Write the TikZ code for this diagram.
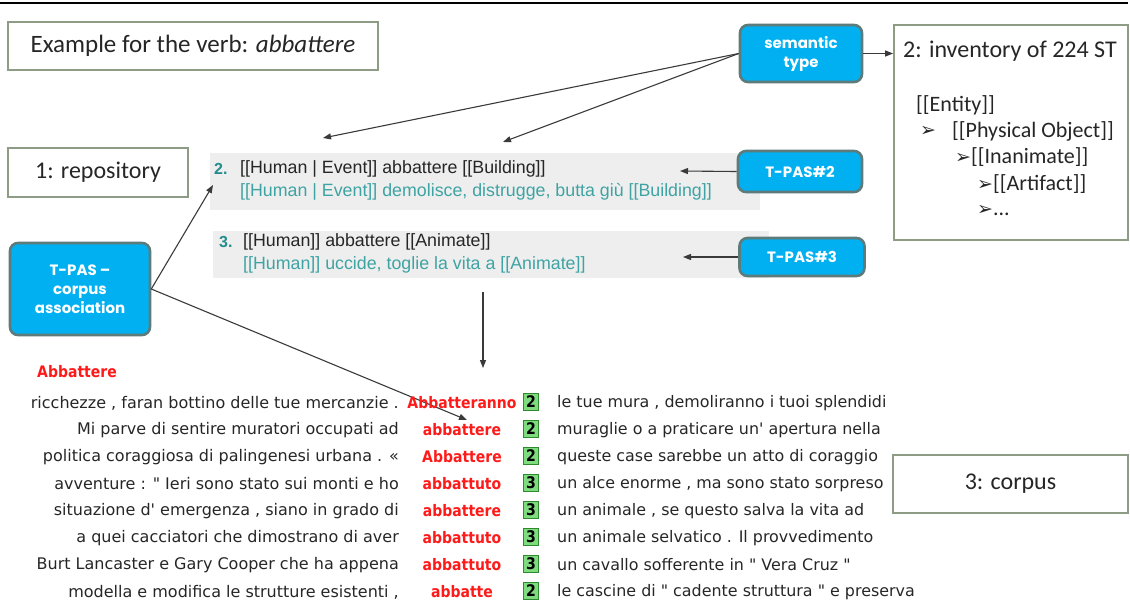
\documentclass[tikz,border=0pt]{standalone}
\usepackage{fontspec}
\setmainfont{Carlito}
\newfontfamily\arialf{Liberation Sans}
\newfontfamily\corpf{DejaVu Sans}
\newfontfamily\corpkw{DejaVu Sans}[FakeStretch=0.88]
\newfontfamily\btnf{Poppins}
\newfontfamily\dingf{DejaVu Sans}
\usetikzlibrary{arrows.meta}
\definecolor{skyfill}{HTML}{00B0F0}
\definecolor{skyedge}{HTML}{5E7B7B}
\definecolor{boxedge}{HTML}{8E9C86}
\definecolor{bandfill}{HTML}{EEEEEE}
\definecolor{tealtxt}{HTML}{3FA3A3}
\definecolor{tealnum}{HTML}{238C8C}
\definecolor{inktxt}{HTML}{262626}
\definecolor{kwred}{HTML}{FF1A1A}
\definecolor{tagfill}{HTML}{7EDB7E}
\definecolor{tagedge}{HTML}{2F8A2F}
\definecolor{linkgray}{HTML}{3A3A3A}
\newcommand{\pointer}{{\dingf\fontsize{19}{22}\selectfont ➢}}
\tikzset{
  labelbox/.style={draw=boxedge, line width=1.8pt, fill=white, inner sep=0pt,
    text=inktxt, font=\fontsize{24}{28}\selectfont},
  bluebtn/.style={draw=skyedge, line width=2.6pt, fill=skyfill, rounded corners=8pt,
    inner sep=0pt, text=white, align=center,
    font=\btnf\bfseries\fontsize{15}{19}\selectfont},
  link/.style={draw=linkgray, line width=1.1pt, -{Triangle[length=8pt,width=6pt]}},
  band/.style={fill=bandfill, draw=none},
  tpasline/.style={anchor=west, inner sep=0pt, font=\arialf\fontsize{17.8}{20}\selectfont},
  invline/.style={anchor=west, inner sep=0pt, text=inktxt, font=\fontsize{22}{26}\selectfont},
  leftctx/.style={anchor=east, inner sep=0pt, text=inktxt, font=\corpf\fontsize{16}{18}\selectfont},
  rightctx/.style={anchor=west, inner sep=0pt, text=inktxt, font=\corpf\fontsize{15.9}{18}\selectfont},
  kword/.style={inner sep=0pt, text=kwred, font=\corpkw\bfseries\fontsize{15.9}{18}\selectfont},
  tag/.style={draw=tagedge, line width=1.2pt, fill=tagfill, minimum width=15pt, minimum height=17pt,
    inner sep=0pt, text=black, font=\corpkw\bfseries\fontsize{16}{18}\selectfont}
}
\begin{document}
\begin{tikzpicture}[x=1pt,y=-1pt]
\useasboundingbox (0,0) rectangle (1130,603);
% rule along the top
\draw[line width=1.2pt, black] (0,3) -- (1128,3);

% titled label boxes
\node[labelbox, minimum width=370pt, minimum height=48pt, font=\fontsize{25}{29}\selectfont] (example) at (193,46)
  {Example for the verb: \textit{abbattere}};
\node[labelbox, minimum width=180pt, minimum height=49pt] (repo) at (98,172.5) {1: repository};
\node[labelbox, minimum width=235pt, minimum height=58pt] (corpus) at (1010.5,484) {3: corpus};
\node[labelbox, minimum width=234pt, minimum height=215pt] (inv) at (1011,132.5) {};
\node[invline, font=\fontsize{24}{28}\selectfont] (invtitle) at (903,51) {2: inventory of 224 ST};
\node[invline] (st1) at (916,105) {[[Entity]]};
\node[invline] (st2a) at (920,131) {\pointer};
\node[invline] (st2) at (952,131) {[[Physical Object]]};
\node[invline] (st3) at (955,157) {\pointer[[Inanimate]]};
\node[invline] (st4) at (977,184) {\pointer[[Artifact]]};
\node[invline] (st5) at (977,211) {\pointer...};

% T-PAS bands
\fill[band] (210,153) rectangle (760,210);
\fill[band] (213,231) rectangle (769,278);
\node[tpasline, text=tealnum, font=\arialf\bfseries\fontsize{16}{18}\selectfont] (n2) at (214,169) {2.};
\node[tpasline, text=inktxt] (tpas2a) at (240,169) {[[Human | Event]] abbattere [[Building]]};
\node[tpasline, text=tealtxt] (tpas2b) at (240,192) {[[Human | Event]] demolisce, distrugge, butta giù [[Building]]};
\node[tpasline, text=tealnum, font=\arialf\bfseries\fontsize{16}{18}\selectfont] (n3) at (219,242) {3.};
\node[tpasline, text=inktxt] (tpas3a) at (243,242) {[[Human]] abbattere [[Animate]]};
\node[tpasline, text=tealtxt] (tpas3b) at (243,265) {[[Human]] uccide, toglie la vita a [[Animate]]};

% blue buttons
\node[bluebtn, minimum width=122pt, minimum height=57pt] (sem) at (801,53.5) {semantic\\type};
\node[bluebtn, minimum width=124pt, minimum height=41pt] (tp2) at (800,171.5) {T-PAS\#2};
\node[bluebtn, minimum width=125pt, minimum height=38pt] (tp3) at (802,257) {T-PAS\#3};
\node[bluebtn, minimum width=140pt, minimum height=92pt] (tpc) at (80,289) {T-PAS –\\corpus\\association};

% arrow end points
\coordinate (semA) at (323,138);
\coordinate (semB) at (503,142);
\coordinate (tp2end) at (680,171);
\coordinate (tp3end) at (683,257);
\coordinate (bandtip) at (213,185);
\coordinate (kwtip) at (467,420);
\coordinate (downtop) at (483,292);
\coordinate (downend) at (483,368);

% connectors
\draw[link] (sem.west) -- (semA);
\draw[link] (sem.west) -- (semB);
\draw[link] (sem.east) -- (sem.east -| inv.west);
\draw[link] (tp2.west) -- (tp2end);
\draw[link] (tp3.west) -- (tp3end);
\draw[link] (tpc.east) -- (bandtip);
\draw[link] (tpc.east) -- (kwtip);
\draw[link] (downtop) -- (downend);

% concordance
\node[kword, anchor=west] (head) at (37,372) {Abbattere};
\foreach \y/\l/\k/\n/\r [count=\i] in {
  403/{ricchezze , faran bottino delle tue mercanzie .}/Abbatteranno/2/{le tue mura , demoliranno i tuoi splendidi},
  430/{Mi parve di sentire muratori occupati ad}/abbattere/2/{muraglie o a praticare un' apertura nella},
  457/{politica coraggiosa di palingenesi urbana . «}/Abbattere/2/{queste case sarebbe un atto di coraggio},
  484/{avventure : " Ieri sono stato sui monti e ho}/abbattuto/3/{un alce enorme , ma sono stato sorpreso},
  511/{situazione d' emergenza , siano in grado di}/abbattere/3/{un animale , se questo salva la vita ad},
  538/{a quei cacciatori che dimostrano di aver}/abbattuto/3/{un animale selvatico . Il provvedimento},
  565/{Burt Lancaster e Gary Cooper che ha appena}/abbattuto/3/{un cavallo sofferente in " Vera Cruz "},
  592/{modella e modifica le strutture esistenti ,}/abbatte/2/{le cascine di " cadente struttura " e preserva}} {
  \node[leftctx] (L\i) at (399,\y) {\l};
  \node[kword] (K\i) at (462,\y) {\k};
  \node[tag] (T\i) at (531,\y-1) {\n};
  \node[rightctx] (R\i) at (557,\y) {\r};
}
\end{tikzpicture}
\end{document}
